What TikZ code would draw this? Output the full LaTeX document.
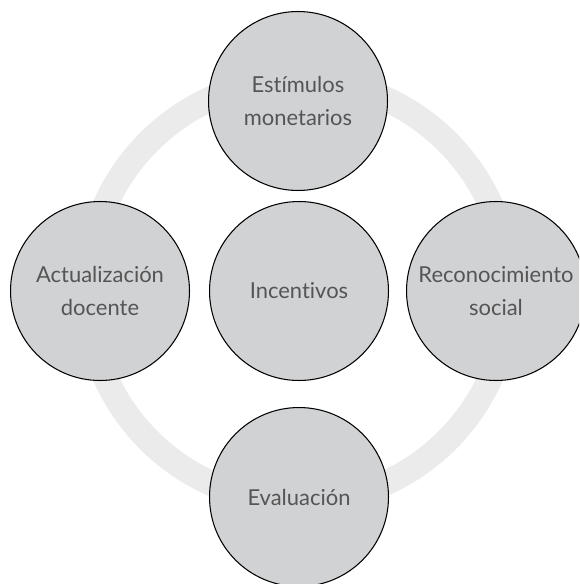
\documentclass[tikz,border=0pt]{standalone}
\usepackage{fontspec}
\setmainfont{Lato}[Ligatures=NoCommon]
\definecolor{discfill}{HTML}{D1D2D4}
\definecolor{ringgray}{HTML}{EBEBEB}
\definecolor{txtgray}{HTML}{555555}
\begin{document}
\begin{tikzpicture}[x=0.02cm,y=-0.02cm,
  disc/.style={circle, draw=black, line width=0.6pt, fill=discfill, minimum size=3.58cm, inner sep=0pt, align=center, text=txtgray, font=\fontsize{12.5}{19}\selectfont}]
\useasboundingbox (0,0) rectangle (579,584);
\clip (0,0) rectangle (579,584);
\draw[ringgray, line width=0.5cm] (298,291) circle[radius=211];
\node[disc] (estim) at (298,101) {Estímulos\\monetarios};
\node[disc] (incent) at (299,291) {Incentivos};
\node[disc] (actual) at (100,291) {Actualización\\docente};
\node[disc] (recon) at (496,291) {Reconocimiento\\social};
\node[disc] (evalu) at (299,497) {Evaluación};
\end{tikzpicture}
\end{document}
